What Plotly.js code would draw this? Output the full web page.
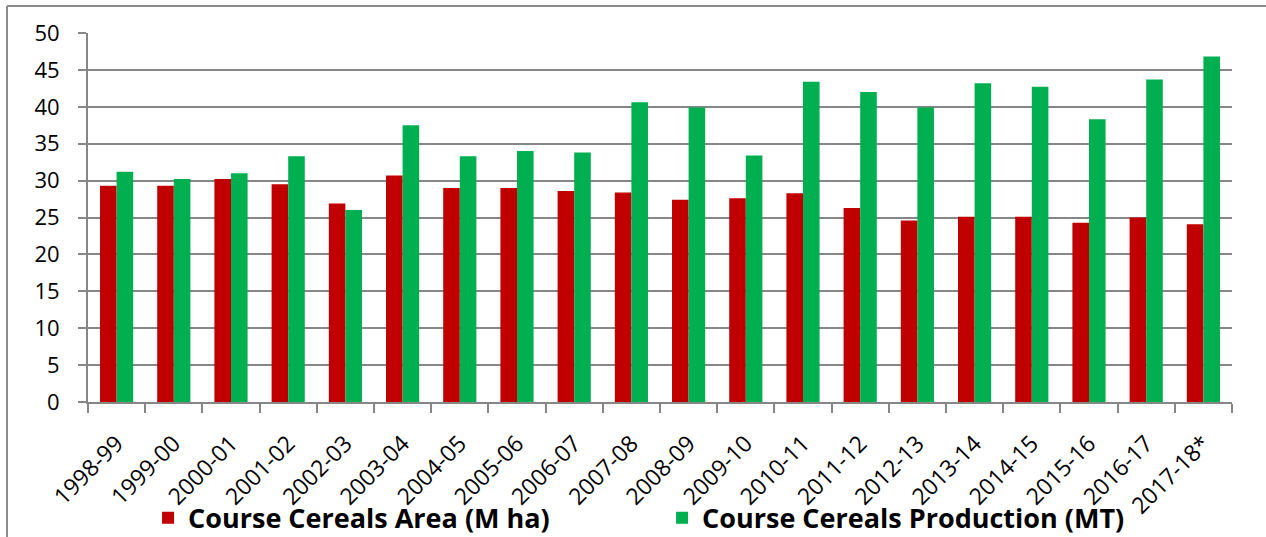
<!DOCTYPE html>
<html>
<head>
<meta charset="utf-8">
<script src="https://cdn.plot.ly/plotly-3.0.1.min.js"></script>
<style>
html,body{margin:0;padding:0;background:#fff;}
#chart{width:1266px;height:537px;}
</style>
</head>
<body>
<div id="chart"></div>
<script>
var years = ["1998-99","1999-00","2000-01","2001-02","2002-03","2003-04","2004-05","2005-06","2006-07","2007-08","2008-09","2009-10","2010-11","2011-12","2012-13","2013-14","2014-15","2015-16","2016-17","2017-18*"];
var areaMha = [29.3,29.3,30.2,29.5,26.9,30.7,29.0,29.0,28.6,28.4,27.4,27.6,28.3,26.3,24.6,25.1,25.1,24.3,25.0,24.1];
var productionMT = [31.2,30.2,31.0,33.3,26.0,37.5,33.3,34.0,33.8,40.6,39.9,33.4,43.4,42.0,39.9,43.2,42.7,38.3,43.7,46.8];
var yTicks = [0,5,10,15,20,25,30,35,40,45,50];

var FONT = "'Open Sans', Lato, sans-serif";
var traces = [
  {type:"bar", name:"Course Cereals Area (M ha)", x:years, y:areaMha,
   marker:{color:"#C00000"}, hoverinfo:"x+y"},
  {type:"bar", name:"Course Cereals Production (MT)", x:years, y:productionMT,
   marker:{color:"#00B050"}, hoverinfo:"x+y"}
];

var layout = {
  width:1266, height:537,
  margin:{l:88, r:34, t:33, b:135},
  paper_bgcolor:"#fff", plot_bgcolor:"#fff",
  font:{family:FONT, color:"#000"},
  barmode:"group", bargap:0.42, bargroupgap:0,
  showlegend:true,
  legend:{orientation:"h", xref:"paper", x:0.0525, yref:"container", y:0.035,
          xanchor:"left", yanchor:"middle", bgcolor:"rgba(0,0,0,0)",
          font:{family:FONT, size:27, weight:"bold", color:"#000"},
          entrywidth:469, traceorder:"normal"},
  xaxis:{type:"category", tickangle:-45, automargin:false,
         tickfont:{family:FONT, size:23, color:"#000"}, ticklabelstandoff:17,
         showline:true, linecolor:"#868686", linewidth:2,
         ticks:"outside", tickson:"boundaries", ticklen:9, tickwidth:2, tickcolor:"#868686",
         showgrid:false, zeroline:false, fixedrange:true},
  yaxis:{range:[0,50], tickvals:yTicks, automargin:false,
         tickfont:{family:FONT, size:22, color:"#000"}, ticklabelstandoff:14,
         showline:true, linecolor:"#868686", linewidth:2,
         ticks:"outside", ticklen:8, tickwidth:2, tickcolor:"#868686",
         showgrid:true, gridcolor:"#868686", gridwidth:2, zeroline:false, fixedrange:true},
  shapes:[
    {type:"line", xref:"paper", yref:"paper", x0:-0.0708, x1:1.04, y0:1.0732, y1:1.0732,
     line:{color:"#8c8c8c", width:2}},
    {type:"line", xref:"paper", yref:"paper", x0:-0.0708, x1:-0.0708, y0:1.0732, y1:-0.42,
     line:{color:"#8c8c8c", width:2}}
  ]
};

Plotly.newPlot("chart", traces, layout, {displayModeBar:false, staticPlot:true});
</script>
</body>
</html>
